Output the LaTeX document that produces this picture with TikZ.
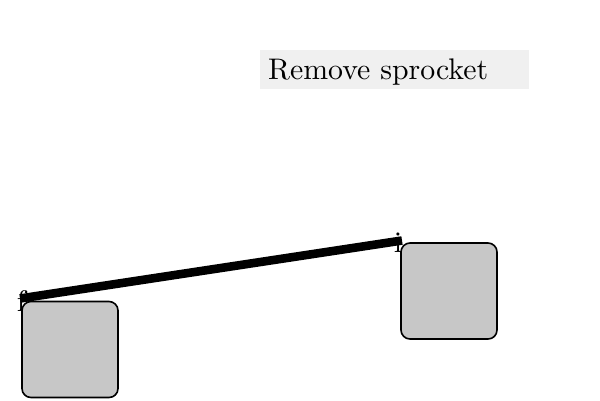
\documentclass[tikz,border=0pt]{standalone}
\font\lmbig="[lmroman10-regular.otf]" at 29.8bp
\begin{document}
\begin{tikzpicture}[x=1bp,y=-1bp,
  block/.style={draw=black,line width=1.6bp,fill=black!22,rounded corners=9bp,minimum width=96bp,minimum height=96bp,inner sep=0pt},
  caption/.style={fill=black!6,minimum width=269bp,minimum height=39bp,inner sep=0pt},
  captext/.style={inner sep=0pt,anchor=base west,font=\lmbig},
  endlabel/.style={inner sep=0pt,anchor=base,font=\lmbig},
  link/.style={line width=8.6bp,draw=black}]
\useasboundingbox (0,0) rectangle (600,400);
\node[caption] (cap) at (394.5,69.5) {};
\node[captext] (capt) at (268,79) {Remove sprocket};
\node[endlabel] (fl) at (21.5,311) {f};
\node[endlabel] (il) at (398,252) {i};
\node[block] (b1) at (70,349.5) {};
\node[block] (b2) at (449,291) {};
\coordinate (f) at (20,298.5);
\coordinate (i) at (402,240.5);
\draw[link] (f) -- (i);
\end{tikzpicture}
\end{document}
